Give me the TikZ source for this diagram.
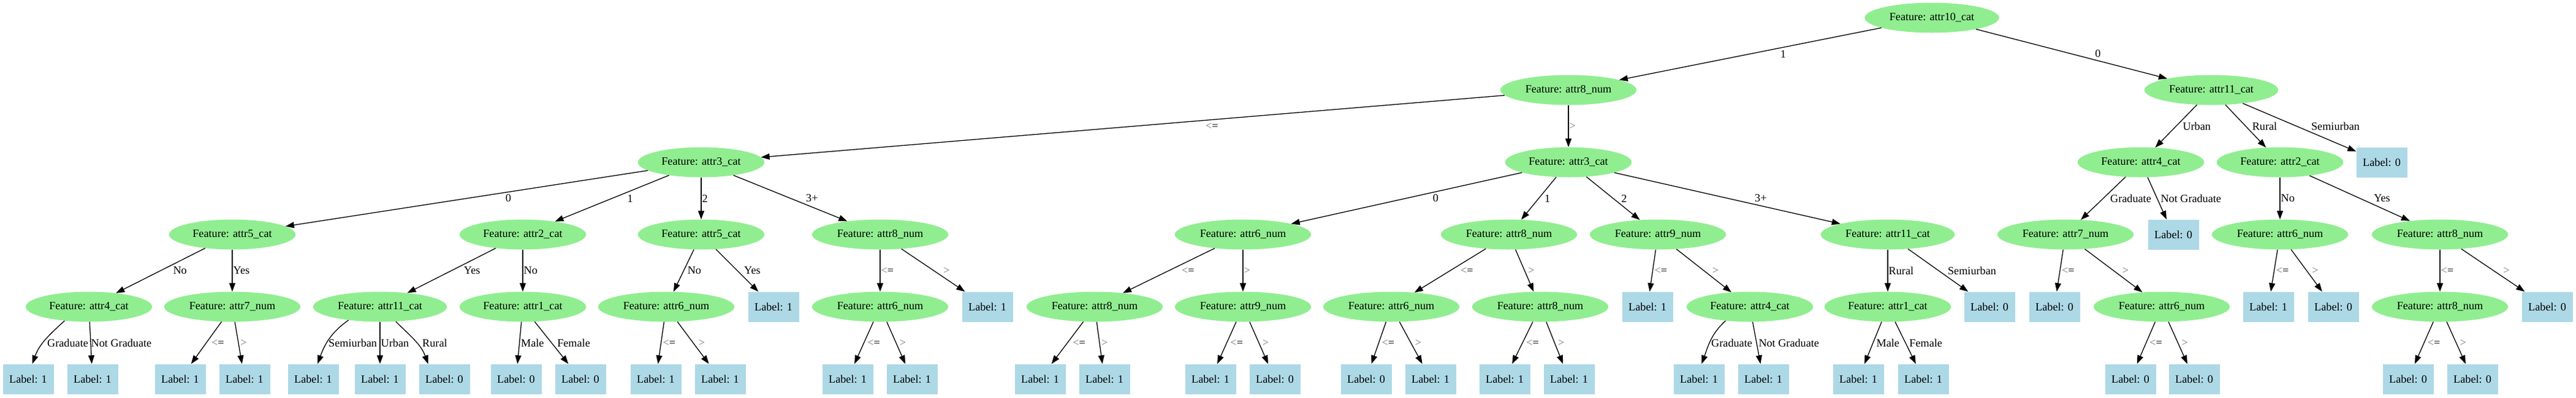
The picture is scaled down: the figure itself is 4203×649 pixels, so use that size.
\documentclass[tikz,border=0pt]{standalone}
\usepackage{fontspec}
\setmainfont{Liberation Serif}
\usetikzlibrary{arrows.meta,shapes.geometric,calc}
\definecolor{fgreen}{HTML}{90EE90}
\definecolor{lblue}{HTML}{ADD8E6}
\tikzset{
  feat/.style={ellipse, fill=fgreen, inner xsep=8.3pt, inner ysep=0pt, minimum height=49pt, font=\fontsize{18.2}{20}\selectfont},
  leaf/.style={rectangle, fill=lblue, minimum width=83pt, minimum height=49pt, inner sep=0pt, font=\fontsize{18.2}{20}\selectfont},
  arr/.style={line width=1.3pt, -{Triangle[length=14pt,width=10pt]}},
  elab/.style={anchor=west, inner sep=0pt, font=\fontsize{18.2}{20}\selectfont}
}
\newcommand\FN[4]{\node[feat] (#1) at (#2,#3) {Feature: #4};}
\newcommand\LN[4]{\node[leaf] (#1) at (#2,#3) {Label: #4};}
\newcommand\EL[3]{\path let \p1=(#1.center), \p2=(#2.center) in node[elab] at ({(\x1+\x2)/2+abs(\x2-\x1)/abs(\y2-\y1)*9.5+1.5}, {(\y1+\y2)/2}) {#3};}
\newcommand\lk[3]{\draw[arr] (#1) -- (#2); \EL{#1}{#2}{#3}}
\newcommand\mLE{{\color{black!55}<}=}
\newcommand\mGT{{\color{black!55}>}}
\begin{document}
\begin{tikzpicture}[x=1pt,y=-1pt]
\useasboundingbox (0,0) rectangle (4203,649);
% level 0-2
\FN{R}{3152}{29}{attr10\_cat}
\FN{A}{2559}{147}{attr8\_num}
\FN{Q}{3608}{147}{attr11\_cat}
\FN{B}{1144}{265}{attr3\_cat}
\FN{C}{2559}{265}{attr3\_cat}
\FN{Q1}{3493}{265}{attr4\_cat}
\FN{Q2}{3720}{265}{attr2\_cat}
\LN{Q3}{3886}{265}{0}
% level 3
\FN{B0}{379}{383}{attr5\_cat}
\FN{B1}{853}{383}{attr2\_cat}
\FN{B2}{1144}{383}{attr5\_cat}
\FN{B3}{1436}{383}{attr8\_num}
\FN{C0}{2028}{383}{attr6\_num}
\FN{C1}{2462}{383}{attr8\_num}
\FN{C2}{2705}{383}{attr9\_num}
\FN{C3}{3080}{383}{attr11\_cat}
\FN{Q1a}{3370}{383}{attr7\_num}
\LN{Q1b}{3546}{383}{0}
\FN{Q2a}{3720}{383}{attr6\_num}
\FN{Q2b}{3981}{383}{attr8\_num}
% level 4
\FN{B0a}{145}{501}{attr4\_cat}
\FN{B0b}{379}{501}{attr7\_num}
\FN{B1a}{620}{501}{attr11\_cat}
\FN{B1b}{853}{501}{attr1\_cat}
\FN{B2a}{1087}{501}{attr6\_num}
\LN{B2b}{1262}{501}{1}
\FN{B3a}{1436}{501}{attr6\_num}
\LN{B3b}{1611}{501}{1}
\FN{C0a}{1786}{501}{attr8\_num}
\FN{C0b}{2028}{501}{attr9\_num}
\FN{C1a}{2270}{501}{attr6\_num}
\FN{C1b}{2513}{501}{attr8\_num}
\LN{C2a}{2688}{501}{1}
\FN{C2b}{2855}{501}{attr4\_cat}
\FN{C3a}{3080}{501}{attr1\_cat}
\LN{C3b}{3246}{501}{0}
\LN{Q1a1}{3352}{501}{0}
\FN{Q1a2}{3527}{501}{attr6\_num}
\LN{Q2a1}{3701}{501}{1}
\LN{Q2a2}{3807}{501}{0}
\FN{Q2b1}{3981}{501}{attr8\_num}
\LN{Q2b2}{4156}{501}{0}
% level 5
\LN{B0a1}{46}{619}{1}
\LN{B0a2}{151}{619}{1}
\LN{B0b1}{294}{619}{1}
\LN{B0b2}{399}{619}{1}
\LN{B1a1}{511}{619}{1}
\LN{B1a2}{620}{619}{1}
\LN{B1a3}{725}{619}{0}
\LN{B1b1}{842}{619}{0}
\LN{B1b2}{947}{619}{0}
\LN{B2a1}{1070}{619}{1}
\LN{B2a2}{1175}{619}{1}
\LN{B3a1}{1383}{619}{1}
\LN{B3a2}{1488}{619}{1}
\LN{C0a1}{1697}{619}{1}
\LN{C0a2}{1802}{619}{1}
\LN{C0b1}{1975}{619}{1}
\LN{C0b2}{2080}{619}{0}
\LN{C1a1}{2229}{619}{0}
\LN{C1a2}{2334}{619}{1}
\LN{C1b1}{2455}{619}{1}
\LN{C1b2}{2560}{619}{1}
\LN{C2b1}{2772}{619}{1}
\LN{C2b2}{2877}{619}{1}
\LN{C3a1}{3032}{619}{1}
\LN{C3a2}{3138}{619}{1}
\LN{Q1a21}{3476}{619}{0}
\LN{Q1a22}{3580}{619}{0}
\LN{Q2b11}{3929}{619}{0}
\LN{Q2b12}{4034}{619}{0}
% edges
\lk{R}{A}{1}
\lk{R}{Q}{0}
\lk{A}{B}{\mLE}
\lk{A}{C}{\mGT}
\lk{Q}{Q1}{Urban}
\lk{Q}{Q2}{Rural}
\lk{Q}{Q3}{Semiurban}
\lk{B}{B0}{0}
\lk{B}{B1}{1}
\lk{B}{B2}{2}
\lk{B}{B3}{3+}
\lk{C}{C0}{0}
\lk{C}{C1}{1}
\lk{C}{C2}{2}
\lk{C}{C3}{3+}
\lk{Q1}{Q1a}{Graduate}
\lk{Q1}{Q1b}{Not Graduate}
\lk{Q2}{Q2a}{No}
\lk{Q2}{Q2b}{Yes}
\lk{B0}{B0a}{No}
\lk{B0}{B0b}{Yes}
\lk{B1}{B1a}{Yes}
\lk{B1}{B1b}{No}
\lk{B2}{B2a}{No}
\lk{B2}{B2b}{Yes}
\lk{B3}{B3a}{\mLE}
\lk{B3}{B3b}{\mGT}
\lk{C0}{C0a}{\mLE}
\lk{C0}{C0b}{\mGT}
\lk{C1}{C1a}{\mLE}
\lk{C1}{C1b}{\mGT}
\lk{C2}{C2a}{\mLE}
\lk{C2}{C2b}{\mGT}
\lk{C3}{C3a}{Rural}
\lk{C3}{C3b}{Semiurban}
\lk{Q1a}{Q1a1}{\mLE}
\lk{Q1a}{Q1a2}{\mGT}
\lk{Q2a}{Q2a1}{\mLE}
\lk{Q2a}{Q2a2}{\mGT}
\lk{Q2b}{Q2b1}{\mLE}
\lk{Q2b}{Q2b2}{\mGT}
% level 4 -> 5
\draw[arr] (B0a.210) to[out=222,in=70] (B0a1.75);
\node[elab] at (77,560) {Graduate};
\draw[arr] (B0a) -- (B0a2);
\node[elab] at (148.5,560) {Not Graduate};
\lk{B0b}{B0b1}{\mLE}
\lk{B0b}{B0b2}{\mGT}
\draw[arr] (B1a.203) to[out=215,in=70] (B1a1.74);
\node[elab] at (536,560) {Semiurban};
\lk{B1a}{B1a2}{Urban}
\draw[arr] (B1a.-43) to[out=-45,in=110] (B1a3.137);
\node[elab] at (689,560) {Rural};
\lk{B1b}{B1b1}{Male}
\lk{B1b}{B1b2}{Female}
\lk{B2a}{B2a1}{\mLE}
\lk{B2a}{B2a2}{\mGT}
\lk{B3a}{B3a1}{\mLE}
\lk{B3a}{B3a2}{\mGT}
\lk{C0a}{C0a1}{\mLE}
\lk{C0a}{C0a2}{\mGT}
\lk{C0b}{C0b1}{\mLE}
\lk{C0b}{C0b2}{\mGT}
\lk{C1a}{C1a1}{\mLE}
\lk{C1a}{C1a2}{\mGT}
\lk{C1b}{C1b1}{\mLE}
\lk{C1b}{C1b2}{\mGT}
\draw[arr] (C2b.210) to[out=222,in=70] (C2b1.80);
\node[elab] at (2792,560) {Graduate};
\lk{C2b}{C2b2}{Not Graduate}
\lk{C3a}{C3a1}{Male}
\lk{C3a}{C3a2}{Female}
\lk{Q1a2}{Q1a21}{\mLE}
\lk{Q1a2}{Q1a22}{\mGT}
\lk{Q2b1}{Q2b11}{\mLE}
\lk{Q2b1}{Q2b12}{\mGT}
\end{tikzpicture}
\end{document}
